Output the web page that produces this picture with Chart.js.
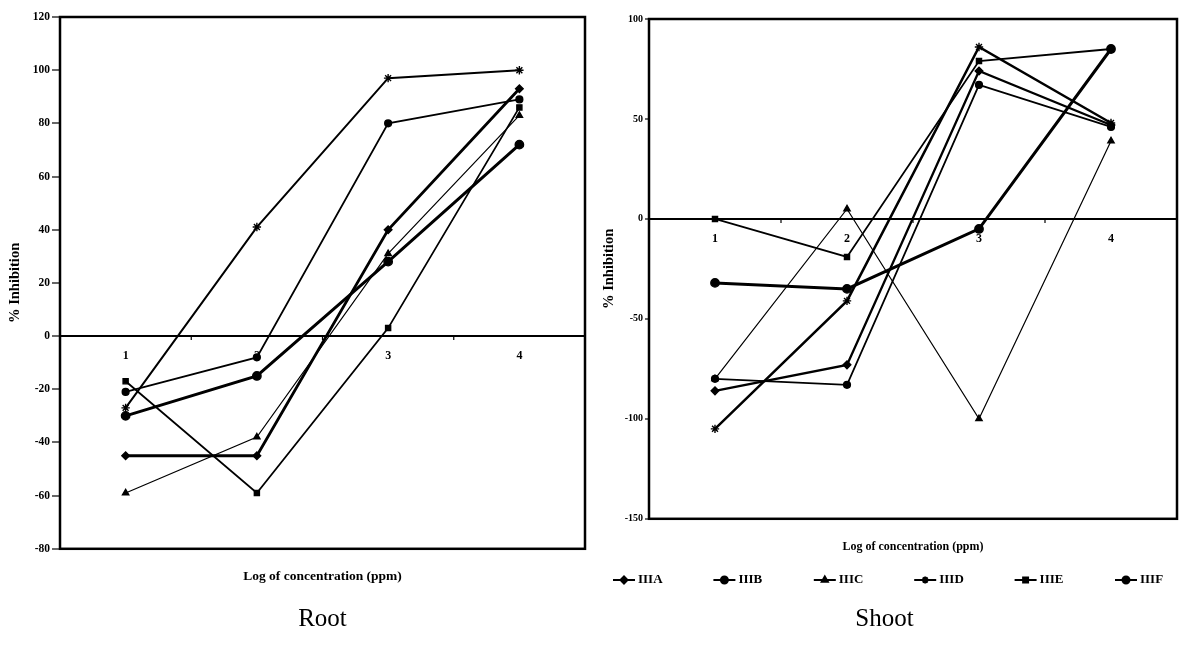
<!DOCTYPE html>
<html>
<head>
<meta charset="utf-8">
<title>Root / Shoot inhibition</title>
<script src="https://cdn.jsdelivr.net/npm/chart.js@4.4.0/dist/chart.umd.min.js"></script>
<style>
  body { margin: 0; background: #fff; }
  #rootBox { position: absolute; left: 0; top: 0; width: 600px; height: 649px; }
  #shootBox { position: absolute; left: 592px; top: 0; width: 592px; height: 649px; }
</style>
</head>
<body>
<div id="rootBox"><canvas id="rootChart"></canvas></div>
<div id="shootBox"><canvas id="shootChart"></canvas></div>
<script>
// log of concentration (ppm)
var concValues = [1, 2, 3, 4];
var seriesNames = ['IIIA', 'IIIB', 'IIIC', 'IIID', 'IIIE', 'IIIF'];

// % inhibition, root
var rootIIIA = [-45, -45, 40, 93];
var rootIIIB = [-21, -8, 80, 89];
var rootIIIC = [-59, -38, 31, 83];
var rootIIID = [-27, 41, 97, 100];
var rootIIIE = [-17, -59, 3, 86];
var rootIIIF = [-30, -15, 28, 72];

// % inhibition, shoot
var shootIIIA = [-86, -73, 74, 47];
var shootIIIB = [-80, -83, 67, 46];
var shootIIIC = [-80, 5, -100, 39];
var shootIIID = [-105, -41, 86, 48];
var shootIIIE = [0, -19, 79, 85];
var shootIIIF = [-32, -35, -5, 85];

var rootYRange = [-80, 120];
var rootYStep = 20;
var shootYRange = [-150, 100];
var shootYStep = 50;

var serif = '"Liberation Serif", "Times New Roman", serif';
var pointStyles = ['rectRot', 'circle', 'triangle', 'star', 'rect', 'circle'];
var pointSizes = [3.8, 3.4, 3.6, 4.2, 3.6, 4.2];
var rootWidths = [2.8, 1.8, 1.2, 2, 1.8, 3];
var shootWidths = [2.3, 1.8, 1.2, 2.5, 1.8, 3];

function buildSets(rows, widths) {
  return rows.map(function (vals, i) {
    return {
      label: seriesNames[i],
      data: vals.map(function (v, j) { return { x: concValues[j], y: v }; }),
      borderColor: '#000',
      backgroundColor: '#000',
      borderWidth: widths[i],
      pointStyle: pointStyles[i],
      pointRadius: pointSizes[i],
      pointBorderWidth: 1.4,
      pointBackgroundColor: '#000',
      pointBorderColor: '#000',
      tension: 0
    };
  });
}

// frame round the plot area
var frameBox = {
  id: 'frameBox',
  afterDraw: function (chart) {
    var a = chart.chartArea, ctx = chart.ctx;
    ctx.save();
    ctx.strokeStyle = '#000';
    ctx.lineWidth = 2.5;
    ctx.strokeRect(a.left, a.top, a.right - a.left, a.bottom - a.top);
    ctx.restore();
  }
};

// category numbers and small ticks hanging off the zero line
var zeroAxis = {
  id: 'zeroAxis',
  beforeDatasetsDraw: function (chart, args, opts) {
    var x = chart.scales.x, y = chart.scales.y, ctx = chart.ctx;
    var y0 = y.getPixelForValue(0);
    ctx.save();
    ctx.strokeStyle = '#000';
    ctx.lineWidth = 1.2;
    [1.5, 2.5, 3.5].forEach(function (v) {
      var px = x.getPixelForValue(v);
      ctx.beginPath();
      ctx.moveTo(px, y0);
      ctx.lineTo(px, y0 + 4);
      ctx.stroke();
    });
    ctx.fillStyle = '#000';
    ctx.font = 'bold ' + opts.size + 'px ' + serif;
    ctx.textAlign = 'center';
    ctx.textBaseline = 'middle';
    concValues.forEach(function (c) {
      ctx.fillText(String(c), x.getPixelForValue(c), y0 + 20);
    });
    ctx.restore();
  }
};

// key under the shoot panel: line + marker + name
var seriesKey = {
  id: 'seriesKey',
  afterDraw: function (chart, args, opts) {
    if (!opts.show) return;
    var ctx = chart.ctx, a = chart.chartArea;
    var x0 = a.left + opts.offsetX, y = opts.y;
    ctx.save();
    chart.data.datasets.forEach(function (ds, i) {
      var x = x0 + i * opts.step;
      ctx.strokeStyle = '#000';
      ctx.fillStyle = '#000';
      ctx.lineWidth = 2;
      ctx.beginPath();
      ctx.moveTo(x, y);
      ctx.lineTo(x + 22, y);
      ctx.stroke();
      if (Chart.helpers && Chart.helpers.drawPoint) {
        Chart.helpers.drawPoint(ctx, { pointStyle: ds.pointStyle, radius: 3.5, rotation: 0, borderWidth: 1.5 }, x + 11, y);
      } else {
        ctx.beginPath();
        ctx.arc(x + 11, y, 3, 0, Math.PI * 2);
        ctx.fill();
      }
      ctx.font = 'bold 13px ' + serif;
      ctx.textAlign = 'left';
      ctx.textBaseline = 'middle';
      ctx.fillText(ds.label, x + 25, y);
    });
    ctx.restore();
  }
};

function makeChart(id, rows, widths, cfg) {
  return new Chart(document.getElementById(id).getContext('2d'), {
    type: 'line',
    data: { datasets: buildSets(rows, widths) },
    plugins: [zeroAxis, frameBox, seriesKey],
    options: {
      responsive: true,
      maintainAspectRatio: false,
      animation: false,
      layout: { padding: { top: cfg.padTop, right: cfg.padRight, left: 0, bottom: 0 } },
      plugins: {
        legend: { display: false },
        tooltip: { enabled: false },
        title: {
          display: true,
          text: cfg.caption,
          position: 'bottom',
          fullSize: cfg.captionFull,
          color: '#000',
          font: { family: serif, size: 25, weight: 'normal' },
          padding: { top: 0, bottom: 15 }
        },
        zeroAxis: { size: cfg.numSize },
        seriesKey: cfg.key
      },
      scales: {
        x: {
          type: 'linear',
          min: 0.5,
          max: 4.5,
          ticks: { display: false },
          grid: { display: false },
          border: { display: false },
          title: {
            display: true,
            text: 'Log of concentration (ppm)',
            color: '#000',
            font: { family: serif, size: cfg.xTitleSize, weight: 'bold' },
            padding: { top: 0, bottom: cfg.xTitlePad }
          },
          afterFit: function (s) { s.height = cfg.xHeight; }
        },
        y: {
          min: cfg.yRange[0],
          max: cfg.yRange[1],
          ticks: {
            stepSize: cfg.yStep,
            color: '#000',
            padding: cfg.tickPad,
            font: { family: serif, size: cfg.tickSize, weight: 'bold' }
          },
          grid: {
            drawOnChartArea: true,
            color: function (c) { return c.tick && c.tick.value === 0 ? '#000' : 'rgba(0,0,0,0)'; },
            lineWidth: 2,
            tickLength: cfg.tickLen,
            tickColor: '#000',
            tickWidth: 1.2
          },
          border: { display: false },
          title: {
            display: true,
            text: '% Inhibition',
            color: '#000',
            font: { family: serif, size: 14.5, weight: 'bold' },
            padding: { top: cfg.yTitlePad, bottom: 0 }
          },
          afterFit: function (s) { s.width = cfg.yWidth; }
        }
      }
    }
  });
}

makeChart('rootChart',
  [rootIIIA, rootIIIB, rootIIIC, rootIIID, rootIIIE, rootIIIF], rootWidths, {
    caption: 'Root', captionFull: false,
    padTop: 17, padRight: 15,
    yRange: rootYRange, yStep: rootYStep,
    yWidth: 60, yTitlePad: 6.5, tickSize: 11.5, tickPad: 2, tickLen: 8,
    xHeight: 55.2, xTitleSize: 13.5, xTitlePad: 19,
    numSize: 12,
    key: { show: false }
  });

makeChart('shootChart',
  [shootIIIA, shootIIIB, shootIIIC, shootIIID, shootIIIE, shootIIIF], shootWidths, {
    caption: 'Shoot', captionFull: true,
    padTop: 19, padRight: 7,
    yRange: shootYRange, yStep: shootYStep,
    yWidth: 57, yTitlePad: 8.5, tickSize: 10, tickPad: 2, tickLen: 4,
    xHeight: 85.2, xTitleSize: 12, xTitlePad: 50,
    numSize: 12,
    key: { show: true, offsetX: -36, step: 100.4, y: 580 }
  });
</script>
</body>
</html>
